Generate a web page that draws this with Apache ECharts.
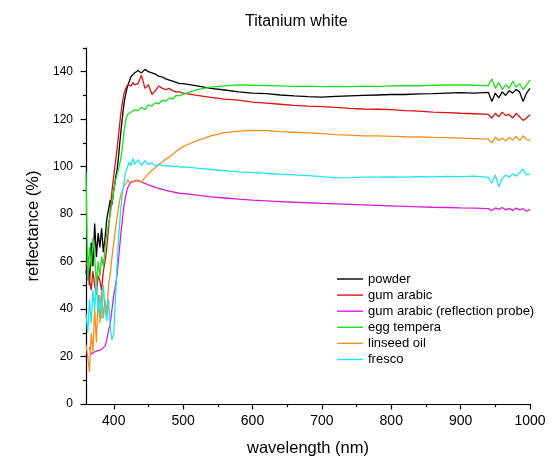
<!DOCTYPE html>
<html>
<head>
<meta charset="utf-8">
<title>Titanium white</title>
<script src="https://cdn.jsdelivr.net/npm/echarts@6/dist/echarts.min.js"></script>
<style>
  html, body { margin: 0; padding: 0; background: #fff; }
  #chart { width: 553px; height: 462px; }
</style>
</head>
<body>
<div id="chart"></div>
<script>
// Wavelength sampling (nm): dense across the absorption edge, coarser on the plateau,
// denser again in the noisy near-IR tail.
const wavelength = [
  360, 362.5, 365, 367.5, 370, 372.5, 375, 377.5, 380, 382.5, 385, 387.5, 390, 392.5, 395, 397.5,
  400, 402.5, 405, 407.5, 410, 412.5, 415, 417.5, 420, 422.5, 425, 427.5, 430,
  435, 440, 445, 450, 455, 460, 465, 470, 475, 480, 485, 490, 495,
  500, 520, 540, 560, 580, 600, 620, 640, 660, 680, 700, 720, 740, 760, 780, 800, 820, 840, 860, 880, 900, 920, 940,
  945, 950, 955, 960, 965, 970, 975, 980, 985, 990, 995, 1000
];

// Reflectance (%) of each preparation
const powder = [
  55, 62, 50, 68, 58, 76, 62, 72, 66, 74, 64, 70, 78, 82, 86, 84,
  90, 95, 99, 106, 114, 121, 127, 131, 134, 136, 138, 137.5, 139.5,
  140.5, 139.5, 141, 140, 139.5, 139, 138, 137.8, 137, 136.5, 136, 135.5, 135,
  135, 134, 133, 132.3, 131.5, 131, 130.8, 130.2, 129.8, 129.5, 129.3, 129.6, 129.8, 130, 130.2, 130.4, 130.4, 130.7, 130.8, 131, 131.2, 131, 131.3,
  127.5, 131, 129, 131.5, 130, 132, 131, 132.5, 131.5, 127.5, 131, 133
];
const gumArabic = [
  58, 62, 52, 48, 56, 50, 46, 54, 52, 48, 56, 60, 66, 74, 82, 90,
  96, 102, 108, 115, 122, 127, 131, 133, 134.5, 135, 134, 135.5, 134.5,
  135, 138.5, 133, 134.5, 130.5, 132, 134, 133, 132.5, 133, 132, 131.5, 131.5,
  131, 130, 129.2, 128.5, 128, 127.2, 126.8, 126.3, 125.8, 125.5, 125.3, 125, 124.6, 124.3, 124.2, 124, 123.6, 123.4, 123, 122.8, 122.5, 122.3, 122,
  120.5, 122.5, 121, 123, 121.5, 122, 120.5, 122.5, 121, 119.5, 120.5, 122
];
const gumArabicProbe = [
  null, null, 24, 21, 20.5, 22, 21.5, 22.5, 22.8, 23, 23.5, 24.5, 27, 31, 34, 40,
  46, 50, 55, 63, 71, 78, 84, 88, 91, 92.5, 93.5, 94, 94,
  94, 93.5, 93, 92.3, 91.8, 91.3, 90.8, 90.4, 90, 89.7, 89.4, 89.1, 88.8,
  88.7, 88, 87.3, 86.8, 86.3, 85.9, 85.6, 85.3, 85, 84.8, 84.5, 84.3, 84.1, 83.9, 83.7, 83.5, 83.3, 83.1, 82.9, 82.8, 82.6, 82.5, 82.3,
  81.5, 82.6, 82, 82.8, 81.8, 82.4, 81.6, 82.5, 81.8, 82.3, 81.2, 82
];
const eggTempera = [
  98, 52, 66, 58, 70, 62, 50, 60, 54, 62, 58, 66, 72, 76, 80, 85,
  90, 94, 97, 100, 103, 108, 115, 120, 122, 121.5, 123, 122.5, 124,
  123.5, 125, 124, 126, 125.5, 127, 126.5, 128, 127.5, 129, 128.5, 130, 129.8,
  130.5, 132.5, 133.5, 134, 134.5, 134.3, 134.2, 134, 133.8, 133.9, 133.7, 133.8, 133.7, 133.9, 133.8, 134, 134.2, 134.1, 134.3, 134.4, 134.5, 134.3, 134.2,
  137, 133, 135.5, 132.5, 134.5, 133, 136, 133.5, 135, 132.5, 134.5, 136.5
];
const linseedOil = [
  25, 20, 13.5, 30, 22, 40, 26, 46, 34, 48, 36, 44, 38, 50, 55, 62,
  68, 74, 79, 84, 88, 90, 92, 93, 94.5, 93.5, 94, 93.5, 94,
  94.5, 93.5, 95.5, 97, 98.5, 99.5, 101, 102, 103.2, 104, 105.2, 106.5, 107.5,
  108.5, 111, 113, 114.3, 115, 115.3, 115.2, 114.8, 114.5, 114.2, 113.9, 113.5, 113.3, 113, 113, 112.8, 112.6, 112.5, 112.3, 112.2, 112, 111.8, 111.6,
  110, 112.5, 111, 112, 110.8, 112.3, 111.2, 112.8, 111, 113, 111.5, 111
];
const fresco = [
  38, 30, 44, 34, 48, 40, 52, 38, 46, 36, 50, 40, 35, 44, 32, 27,
  30, 45, 60, 72, 82, 89, 94, 98, 100, 102, 100.5, 103.5, 101,
  103, 100.5, 102.5, 101, 101.5, 100.3, 101, 100.5, 100.2, 100.4, 100, 100.2, 99.8,
  99.9, 99.4, 98.8, 98.3, 97.8, 97.5, 97.2, 96.8, 96.5, 96.2, 95.8, 95.3, 95.4, 95.6, 95.6, 95.7, 95.6, 95.8, 95.7, 95.9, 95.8, 96, 95.5,
  93, 96.5, 91.5, 95, 96.5, 95.5, 97, 96, 97.5, 99, 96.5, 97
];

const seriesNames = ['powder', 'gum arabic', 'gum arabic (reflection probe)', 'egg tempera', 'linseed oil', 'fresco'];
const seriesValues = [powder, gumArabic, gumArabicProbe, eggTempera, linseedOil, fresco];
const seriesColors = ['#000000', '#dd1111', '#d81bd8', '#1fdc1f', '#f0901c', '#20e4e8'];

// Tick positions
const xMajorTicks = [400, 500, 600, 700, 800, 900, 1000];
const xMinorTicks = [450, 550, 650, 750, 850, 950];
const yMajorTicks = [0, 20, 40, 60, 80, 100, 120, 140];
const yMinorTicks = [10, 30, 50, 70, 90, 110, 130, 150];

const FONT = '"Liberation Sans", Arial, sans-serif';
const axisLine = { show: true, lineStyle: { color: '#000', width: 1.2 } };
const plainNumber = v => String(v);

function pairs(values) {
  const out = [];
  for (let i = 0; i < wavelength.length; i++) {
    if (values[i] !== null) out.push([wavelength[i], values[i]]);
  }
  return out;
}

const chart = echarts.init(document.getElementById('chart'), null, { renderer: 'canvas' });

chart.setOption({
  animation: false,
  backgroundColor: '#fff',
  title: {
    text: 'Titanium white',
    left: 245,
    top: 14,
    padding: 0,
    textStyle: { fontFamily: FONT, fontSize: 16, fontWeight: 'normal', color: '#000' }
  },
  legend: {
    orient: 'vertical',
    left: 337,
    top: 271,
    padding: 0,
    icon: 'rect',
    itemWidth: 26,
    itemHeight: 1.4,
    itemGap: 0.1,
    data: seriesNames,
    textStyle: { fontFamily: FONT, fontSize: 13, lineHeight: 16, color: '#000' }
  },
  grid: { left: 86, right: 23, top: 48, bottom: 57, containLabel: false },
  xAxis: [
    {
      type: 'value', min: 360, max: 1000,
      name: 'wavelength (nm)', nameLocation: 'middle', nameGap: 36,
      nameTextStyle: { fontFamily: FONT, fontSize: 16.5, color: '#000' },
      axisLine: axisLine,
      axisTick: { show: true, inside: false, length: 5.5, customValues: xMajorTicks, lineStyle: { color: '#000', width: 1.2 } },
      axisLabel: { show: true, customValues: xMajorTicks, formatter: plainNumber, margin: 10, fontFamily: FONT, fontSize: 14, color: '#000' },
      splitLine: { show: false }
    },
    {
      type: 'value', min: 360, max: 1000, position: 'bottom',
      axisLine: { show: false },
      axisTick: { show: true, inside: false, length: 3.2, customValues: xMinorTicks, lineStyle: { color: '#000', width: 1.2 } },
      axisLabel: { show: false },
      splitLine: { show: false }
    }
  ],
  yAxis: [
    {
      type: 'value', min: 0, max: 150,
      name: 'reflectance (%)', nameLocation: 'middle', nameGap: 37, nameRotate: 90,
      nameTextStyle: { fontFamily: FONT, fontSize: 16.5, color: '#000' },
      axisLine: axisLine,
      axisTick: { show: true, inside: false, length: 5.5, customValues: yMajorTicks, lineStyle: { color: '#000', width: 1.2 } },
      axisLabel: { show: true, customValues: yMajorTicks, formatter: plainNumber, margin: 13, fontFamily: FONT, fontSize: 12, color: '#000' },
      splitLine: { show: false }
    },
    {
      type: 'value', min: 0, max: 150, position: 'left',
      axisLine: { show: false },
      axisTick: { show: true, inside: false, length: 3.2, customValues: yMinorTicks, lineStyle: { color: '#000', width: 1.2 } },
      axisLabel: { show: false },
      splitLine: { show: false }
    }
  ],
  series: seriesNames.map((name, i) => ({
    name: name,
    type: 'line',
    xAxisIndex: 0,
    yAxisIndex: 0,
    data: pairs(seriesValues[i]),
    symbol: 'none',
    showSymbol: false,
    smooth: false,
    color: seriesColors[i],
    lineStyle: { color: seriesColors[i], width: 1.3 },
    emphasis: { disabled: true }
  }))
});
</script>
</body>
</html>
